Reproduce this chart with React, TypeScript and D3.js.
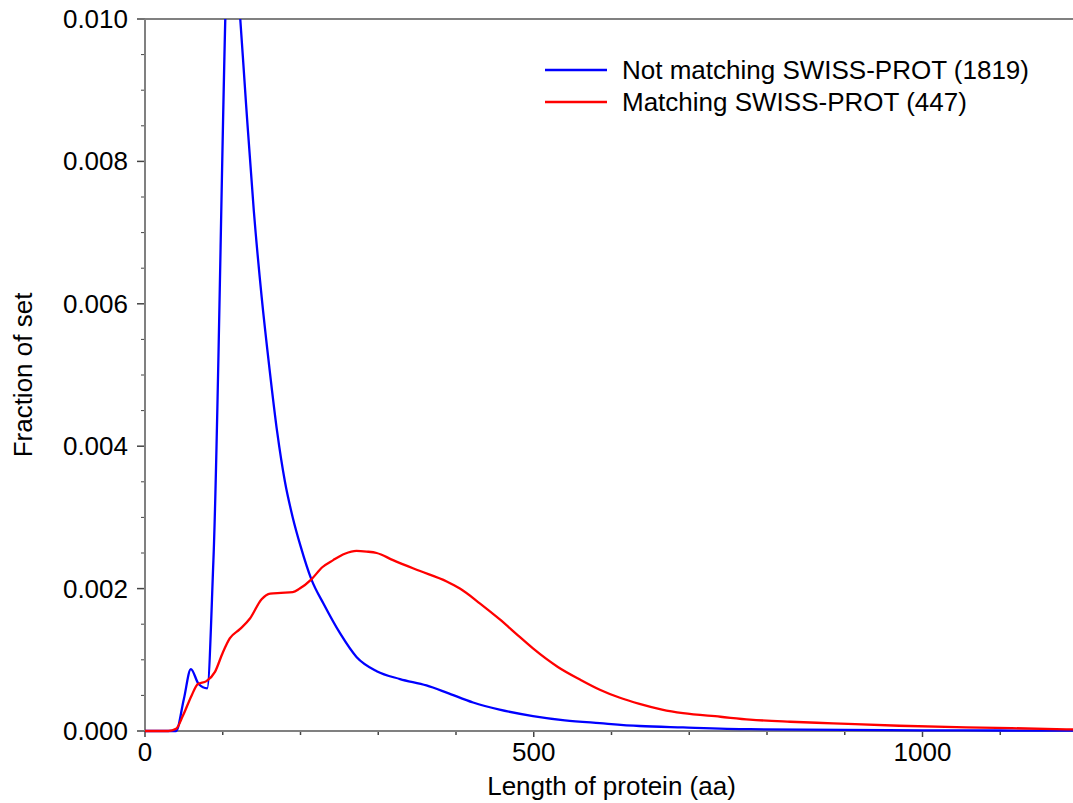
import React from "react";
import * as d3 from "d3";

const notMatchingLen = [0, 30, 40, 50, 59, 69, 80, 88, 110, 120, 130, 140, 150, 160, 170, 180, 190, 200, 214, 230, 251, 272, 298, 328, 362, 388, 422, 456, 499, 540, 585, 636, 692, 778, 900, 1000, 1100, 1200];
const notMatchingFrac = [0, 0, 0, 0.00045, 0.00087, 0.00066, 0.0006, 0.0024, 0.0117, 0.0104, 0.0088, 0.0073, 0.0061, 0.0051, 0.0042, 0.0035, 0.003, 0.0026, 0.00213, 0.00178, 0.00137, 0.00104, 0.00084, 0.00073, 0.00064, 0.00054, 0.0004, 0.0003, 0.00021, 0.00015, 0.00011, 0.00007, 0.00005, 0.000025, 0.000015, 0.00001, 0.000007, 0.000005];

const matchingLen = [0, 30, 40, 49, 60, 68, 79, 90, 100, 109, 122, 135, 150, 161, 175, 190, 199, 214, 228, 242, 257, 272, 285, 298, 319, 353, 388, 405, 431, 456, 480, 499, 531, 560, 585, 610, 636, 665, 692, 740, 778, 830, 885, 970, 1056, 1185, 1200];
const matchingFrac = [0, 0, 0.00003, 0.00022, 0.0005, 0.00066, 0.0007, 0.00083, 0.0011, 0.0013, 0.00143, 0.00158, 0.00185, 0.00193, 0.00194, 0.00195, 0.002, 0.00213, 0.0023, 0.0024, 0.00249, 0.00253, 0.00252, 0.0025, 0.0024, 0.00225, 0.0021, 0.002, 0.00179, 0.00157, 0.00134, 0.00116, 0.0009, 0.00072, 0.00058, 0.00047, 0.00038, 0.0003, 0.00025, 0.0002, 0.00016, 0.00013, 0.000108, 0.000074, 0.000052, 0.000024, 0.00002];

const seriesNames = ["Not matching SWISS-PROT (1819)", "Matching SWISS-PROT (447)"];
const seriesColors = ["#0000ff", "#ff0000"];

const yMajorTicks = [0, 0.002, 0.004, 0.006, 0.008, 0.01];
const xMajorTicks = [0, 500, 1000];

const W = 1073;
const H = 803;
const left = 145;
const right = 1078;
const top = 19;
const bottom = 731;

export default function App() {
  const x = d3.scaleLinear().domain([0, 1200]).range([left, right]);
  const y = d3.scaleLinear().domain([0, 0.01]).range([bottom, top]);

  const line = d3
    .line<[number, number]>()
    .x((d) => x(d[0]))
    .y((d) => y(d[1]))
    .curve(d3.curveMonotoneX);

  const blue = notMatchingLen.map((v, i) => [v, notMatchingFrac[i]] as [number, number]);
  const red = matchingLen.map((v, i) => [v, matchingFrac[i]] as [number, number]);

  const yMinor = d3.range(0, 0.01001, 0.0005).filter((v) => !yMajorTicks.some((m) => Math.abs(m - v) < 1e-9));
  const xMinor = d3.range(0, 1201, 100).filter((v) => !xMajorTicks.includes(v));

  const font = "'Liberation Sans', Arial, Helvetica, sans-serif";
  const fs = 26;
  const axisColor = "#808080";
  const tickColor = "#444";

  return (
    <svg
      width={W}
      height={H}
      style={{ position: "absolute", left: 0, top: 0, background: "#fff" }}
      fontFamily={font}
    >
      <defs>
        <clipPath id="plotClip">
          <rect x={left} y={top} width={W - left} height={bottom - top + 2} />
        </clipPath>
      </defs>

      {/* y ticks */}
      {yMinor.map((v) => (
        <line key={"ym" + v} x1={left - 4} x2={left} y1={y(v)} y2={y(v)} stroke={tickColor} strokeWidth={1} />
      ))}
      {yMajorTicks.map((v) => (
        <g key={"yM" + v}>
          <line x1={left - 8} x2={left} y1={y(v)} y2={y(v)} stroke={tickColor} strokeWidth={1.5} />
          <text x={128} y={y(v) + 9} textAnchor="end" fontSize={fs} fill="#000">
            {d3.format(".3f")(v)}
          </text>
        </g>
      ))}

      {/* x ticks */}
      {xMinor.map((v) => (
        <line key={"xm" + v} x1={x(v)} x2={x(v)} y1={bottom} y2={bottom + 4} stroke={tickColor} strokeWidth={1.5} />
      ))}
      {xMajorTicks.map((v) => (
        <g key={"xM" + v}>
          <line x1={x(v)} x2={x(v)} y1={bottom} y2={bottom + 6} stroke={tickColor} strokeWidth={1.5} />
          <text x={x(v)} y={761} textAnchor="middle" fontSize={fs} fill="#000">
            {v}
          </text>
        </g>
      ))}

      {/* frame lines */}
      <line x1={left} x2={W} y1={top} y2={top} stroke={axisColor} strokeWidth={2} />
      <line x1={left} x2={W} y1={bottom} y2={bottom} stroke={axisColor} strokeWidth={2} />
      <line x1={left} x2={left} y1={top} y2={bottom} stroke={axisColor} strokeWidth={2} />

      {/* series */}
      <g clipPath="url(#plotClip)">
        <path d={line(blue) || ""} fill="none" stroke={seriesColors[0]} strokeWidth={2.3} strokeLinejoin="round" />
        <path d={line(red) || ""} fill="none" stroke={seriesColors[1]} strokeWidth={2.3} strokeLinejoin="round" />
      </g>

      {/* legend */}
      {seriesNames.map((name, i) => (
        <g key={name}>
          <line x1={545} x2={607} y1={70 + i * 32} y2={70 + i * 32} stroke={seriesColors[i]} strokeWidth={2.3} />
          <text x={622} y={79 + i * 32} fontSize={fs} fill="#000">
            {name}
          </text>
        </g>
      ))}

      {/* axis titles */}
      <text x={(left + right) / 2} y={795} textAnchor="middle" fontSize={fs} fill="#000">
        Length of protein (aa)
      </text>
      <text
        transform={`translate(32, ${(top + bottom) / 2}) rotate(-90)`}
        textAnchor="middle"
        fontSize={fs}
        fill="#000"
      >
        Fraction of set
      </text>
    </svg>
  );
}
